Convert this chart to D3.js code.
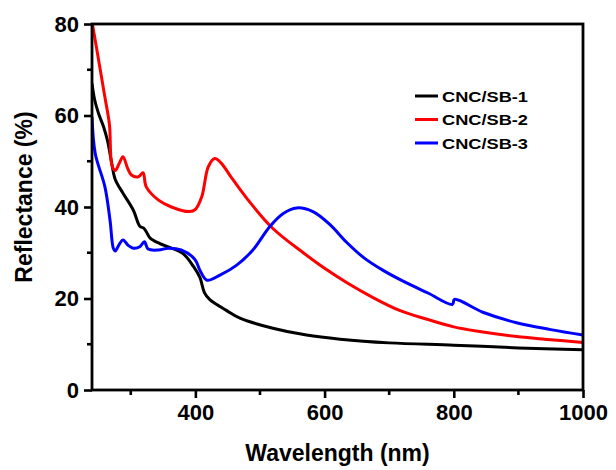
<!DOCTYPE html>
<html>
<head>
<meta charset="utf-8">
<script src="https://cdn.jsdelivr.net/npm/d3@7"></script>
<style>
  body { margin: 0; background: #fff; }
  svg text { font-family: "Liberation Sans", Arial, sans-serif; font-weight: bold; }
</style>
</head>
<body>
<svg></svg>
<script>
// wavelength (nm) / reflectance (%)
const wl1 = [240, 244, 250, 258, 264, 270, 276, 288, 304, 314, 320, 324, 330, 345, 360, 381, 397, 407, 414, 422, 448, 469, 520, 572, 624, 700, 800, 900, 1000]
const sb1 = [67, 63.5, 60.5, 57.5, 54.5, 50, 46, 43, 39.3, 35.8, 35.4, 34.6, 33.2, 32, 31.2, 29.8, 27, 24.6, 21.3, 19.8, 17.4, 15.7, 13.5, 12, 11.1, 10.3, 9.8, 9.2, 8.8]

const wl2 = [240, 251, 260, 267, 271, 276, 282, 288, 295, 301, 312, 319, 324, 343, 363, 391, 400, 410, 420, 430, 440, 455, 479, 520, 567, 600, 634, 675, 716, 760, 800, 840, 897, 950, 1000]
const sb2 = [80.5, 71.5, 64, 58, 49, 48, 49.5, 51, 48.5, 47, 46.6, 47.5, 44.4, 41.5, 40, 39, 39.5, 42.3, 48.8, 50.6, 49.6, 46.6, 42, 35.3, 30, 26.6, 23.5, 20.2, 17.4, 15.4, 13.8, 12.8, 11.7, 11, 10.4]

const wl3 = [240, 245, 260, 268, 273, 276, 282, 288, 296, 304, 314, 321, 327, 343, 358, 378, 399, 407, 418, 438, 464, 489, 515, 536, 557, 582, 608, 634, 660, 690, 720, 760, 798, 801, 845, 897, 950, 1000]
const sb3 = [59.7, 51.7, 44.4, 37, 31, 30.4, 31.8, 32.8, 31.6, 31, 31.3, 32.4, 30.8, 30.6, 31, 30.6, 28.6, 26.2, 24, 25.1, 27.3, 30.6, 35.7, 38.6, 39.8, 39, 36.2, 32.3, 29, 26.2, 23.9, 21.2, 18.7, 19.8, 17, 14.7, 13.2, 12]

const names = ["CNC/SB-1", "CNC/SB-2", "CNC/SB-3"]
const colors = ["#000000", "#ff0000", "#0000ff"]

const xTicks = [400, 600, 800, 1000]
const xMinor = [300, 500, 700, 900]
const yTicks = [0, 20, 40, 60, 80]
const yMinor = [10, 30, 50, 70]

let width = 616
let height = 470
let padLeft = 92, padRight = 583, padTop = 24, padBottom = 390

let svg = d3.select("svg").attr("width", width).attr("height", height)

let xScale = d3.scaleLinear().domain([240, 1000]).range([padLeft, padRight])
let yScale = d3.scaleLinear().domain([0, 80]).range([padBottom, padTop])

svg.append("defs").append("clipPath").attr("id", "clip")
  .append("rect").attr("x", padLeft).attr("y", padTop)
  .attr("width", padRight - padLeft).attr("height", padBottom - padTop)

let series = [
  wl1.map((w, i) => [w, sb1[i]]),
  wl2.map((w, i) => [w, sb2[i]]),
  wl3.map((w, i) => [w, sb3[i]])
]

let line = d3.line()
  .x(d => xScale(d[0]))
  .y(d => yScale(d[1]))
  .curve(d3.curveCatmullRom.alpha(0.5))

// axes
let xAxis = d3.axisBottom(xScale).tickValues(xTicks).tickFormat(d3.format("d"))
  .tickSize(8).tickPadding(6).tickSizeOuter(0)
let yAxis = d3.axisLeft(yScale).tickValues(yTicks).tickFormat(d3.format("d"))
  .tickSize(8).tickPadding(5).tickSizeOuter(0)

let gx = svg.append("g").attr("transform", "translate(0," + padBottom + ")").call(xAxis)
gx.append("g").selectAll("line").data(xMinor).enter().append("line")
  .attr("x1", d => xScale(d)).attr("x2", d => xScale(d))
  .attr("y1", 0).attr("y2", 5)

let gy = svg.append("g").attr("transform", "translate(" + padLeft + ",0)").call(yAxis)
gy.append("g").selectAll("line").data(yMinor).enter().append("line")
  .attr("x1", 0).attr("x2", -5)
  .attr("y1", d => yScale(d)).attr("y2", d => yScale(d))

svg.selectAll(".domain").remove()
svg.selectAll("line").attr("stroke", "#000").attr("stroke-width", 2.6)
svg.selectAll(".tick text").attr("font-size", 22).attr("fill", "#000")
  .style("font-family", '"Liberation Sans", Arial, sans-serif').style("font-weight", "bold")

svg.append("g").attr("clip-path", "url(#clip)")
  .selectAll("path")
  .data(series)
  .enter()
  .append("path")
  .attr("d", line)
  .attr("fill", "none")
  .attr("stroke", (d, i) => colors[i])
  .attr("stroke-width", 3)
  .attr("stroke-linejoin", "round")

// frame
svg.append("rect")
  .attr("x", padLeft).attr("y", padTop)
  .attr("width", padRight - padLeft).attr("height", padBottom - padTop)
  .attr("fill", "none").attr("stroke", "#000").attr("stroke-width", 2.8)

// axis titles
svg.append("text")
  .attr("x", (padLeft + padRight) / 2).attr("y", 461)
  .attr("text-anchor", "middle").attr("font-size", 23)
  .text("Wavelength (nm)")

svg.append("text")
  .attr("transform", "translate(32,197) rotate(-90)")
  .attr("text-anchor", "middle").attr("font-size", 23)
  .text("Reflectance (%)")

// legend
let legend = svg.append("g")
names.forEach((n, i) => {
  let y = 96 + i * 23.5
  legend.append("line")
    .attr("x1", 415).attr("x2", 438)
    .attr("y1", y).attr("y2", y)
    .attr("stroke", colors[i]).attr("stroke-width", 3)
  legend.append("text")
    .attr("x", 442).attr("y", y + 5.5)
    .attr("font-size", 15)
    .attr("textLength", 86).attr("lengthAdjust", "spacingAndGlyphs")
    .text(n)
})
</script>
</body>
</html>
